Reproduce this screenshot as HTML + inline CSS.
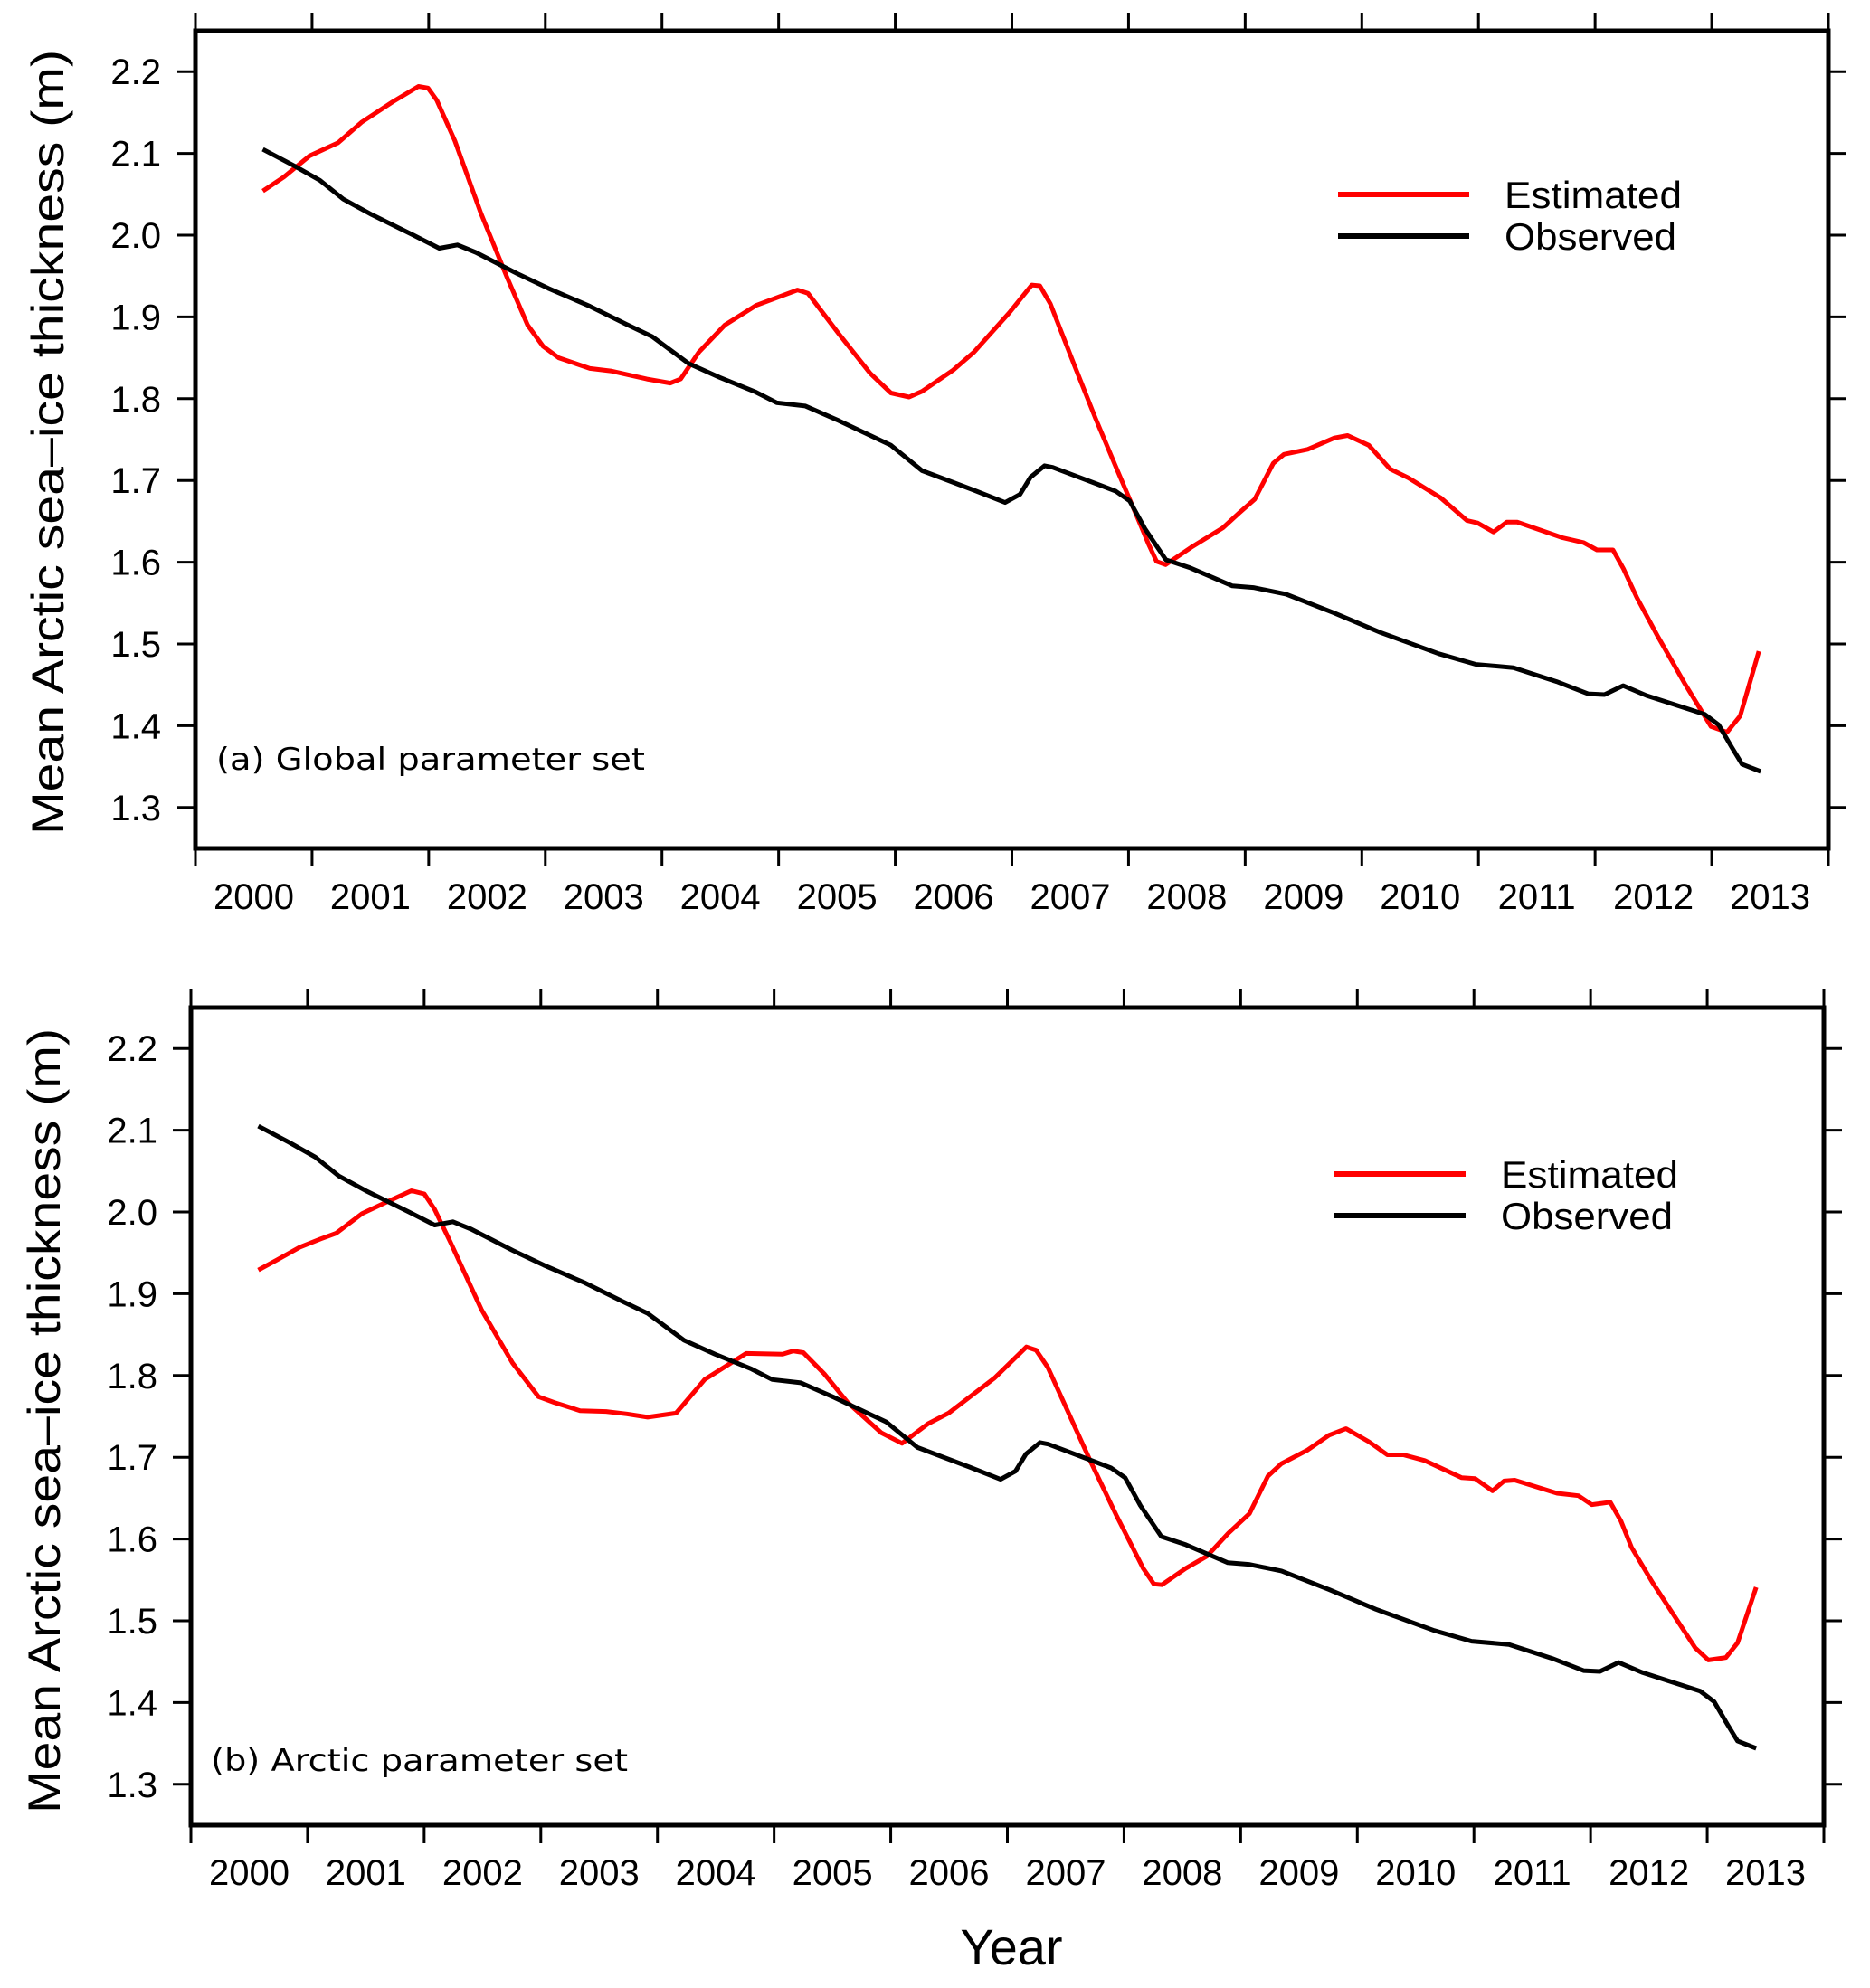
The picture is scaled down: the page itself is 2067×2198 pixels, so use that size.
<!DOCTYPE html>
<html><head><meta charset="utf-8"><style>
html,body{margin:0;padding:0;background:#fff;}
svg{display:block;}
text{font-family:"Liberation Sans",Arial,sans-serif;fill:#000;}
.lab{font-family:"DejaVu Sans","Liberation Sans",sans-serif;}
</style></head>
<body>
<svg id="chart" width="2067" height="2198" viewBox="0 0 2067 2198" xmlns="http://www.w3.org/2000/svg"></svg>
<script>
const yTicks = [1.3,1.4,1.5,1.6,1.7,1.8,1.9,2.0,2.1,2.2];
const yearLabels = ["2000","2001","2002","2003","2004","2005","2006","2007","2008","2009","2010","2011","2012","2013"];
const obsYears = [2000.578,2000.845,2001.068,2001.268,2001.513,2001.869,2002.09,2002.247,2002.403,2002.759,2003.026,2003.382,2003.694,2003.916,2004.228,2004.495,2004.806,2004.984,2005.229,2005.518,2005.963,2006.23,2006.675,2006.942,2007.07,2007.16,2007.28,2007.35,2007.76,2007.89,2008.01,2008.14,2008.32,2008.53,2008.89,2009.07,2009.35,2009.76,2010.16,2010.66,2010.98,2011.30,2011.67,2011.94,2012.08,2012.24,2012.44,2012.94,2013.06,2013.17,2013.26,2013.42];
const obsValues = [2.105,2.085,2.067,2.044,2.025,2.000,1.984,1.988,1.979,1.953,1.935,1.913,1.891,1.876,1.843,1.826,1.808,1.795,1.791,1.773,1.743,1.712,1.688,1.673,1.683,1.704,1.718,1.716,1.694,1.687,1.675,1.641,1.603,1.593,1.571,1.569,1.561,1.538,1.514,1.488,1.475,1.471,1.454,1.439,1.438,1.449,1.437,1.414,1.401,1.374,1.353,1.344];
const estAYears = [2000.578,2000.757,2000.979,2001.224,2001.424,2001.691,2001.913,2001.994,2002.069,2002.225,2002.447,2002.67,2002.848,2002.981,2003.115,2003.382,2003.56,2003.871,2004.072,2004.16,2004.316,2004.539,2004.806,2005.162,2005.251,2005.518,2005.785,2005.963,2006.119,2006.23,2006.497,2006.675,2006.977,2007.171,2007.24,2007.33,2007.535,2007.717,2007.899,2008.081,2008.172,2008.24,2008.318,2008.536,2008.809,2008.946,2009.082,2009.241,2009.332,2009.536,2009.764,2009.878,2010.06,2010.242,2010.401,2010.674,2010.901,2010.992,2011.129,2011.243,2011.333,2011.72,2011.902,2012.016,2012.153,2012.243,2012.357,2012.539,2012.767,2012.994,2013.131,2013.244,2013.404];
const estAValues = [2.054,2.071,2.097,2.113,2.138,2.163,2.182,2.180,2.165,2.115,2.027,1.949,1.890,1.864,1.850,1.837,1.834,1.824,1.819,1.824,1.857,1.890,1.914,1.933,1.929,1.879,1.831,1.807,1.802,1.809,1.835,1.857,1.905,1.939,1.938,1.916,1.841,1.776,1.714,1.653,1.622,1.601,1.597,1.618,1.642,1.660,1.677,1.721,1.732,1.738,1.752,1.755,1.743,1.714,1.703,1.679,1.651,1.648,1.637,1.649,1.649,1.630,1.624,1.615,1.615,1.592,1.557,1.509,1.452,1.399,1.392,1.412,1.491];
const estBYears = [2000.578,2000.734,2000.934,2001.112,2001.246,2001.468,2001.691,2001.891,2002.002,2002.09,2002.225,2002.49,2002.759,2002.981,2003.115,2003.337,2003.56,2003.738,2003.916,2004.16,2004.405,2004.761,2005.073,2005.162,2005.251,2005.43,2005.63,2005.919,2006.097,2006.32,2006.497,2006.891,2007.164,2007.247,2007.347,2007.71,2007.938,2008.165,2008.256,2008.325,2008.529,2008.711,2008.893,2009.075,2009.234,2009.348,2009.575,2009.757,2009.903,2010.099,2010.258,2010.395,2010.577,2010.895,2011.009,2011.159,2011.259,2011.35,2011.713,2011.896,2012.01,2012.169,2012.26,2012.35,2012.53,2012.896,2013.01,2013.16,2013.26,2013.42];
const estBValues = [1.929,1.941,1.957,1.967,1.974,1.998,2.013,2.026,2.022,2.003,1.963,1.881,1.815,1.774,1.767,1.757,1.756,1.753,1.749,1.754,1.795,1.827,1.826,1.830,1.828,1.802,1.767,1.730,1.717,1.741,1.754,1.797,1.835,1.831,1.810,1.696,1.628,1.564,1.545,1.544,1.564,1.579,1.607,1.631,1.677,1.692,1.709,1.727,1.735,1.719,1.703,1.703,1.696,1.675,1.674,1.659,1.671,1.672,1.656,1.653,1.642,1.645,1.622,1.590,1.547,1.467,1.452,1.455,1.473,1.541];

const NS = "http://www.w3.org/2000/svg";
const svg = document.getElementById('chart');
function mk(tag, attrs, parent){ const e=document.createElementNS(NS,tag); for(const k in attrs) e.setAttribute(k,attrs[k]); (parent||svg).appendChild(e); return e; }

function panel(cfg){
  const g = mk('g',{});
  
  
  const L=cfg.left, T=cfg.top, W=1805, H=904;
  const xS = yr => L + (yr-2000)/14*W;
  const yS = v => T + (2.25-v)/1.0*H;
  yTicks.forEach(v=>{
    const y=yS(v);
    const t1=mk('line',{x1:L-20,x2:L,y1:y,y2:y,stroke:'#000','stroke-width':3},g);
    
    
    mk('line',{x1:L+W,x2:L+W+20,y1:y,y2:y,stroke:'#000','stroke-width':3},g);
    const tx=mk('text',{x:cfg.ylabRight,y:y+14,'text-anchor':'end','font-size':40},g);
    tx.textContent=v.toFixed(1);
    
    
  });
  for(let k=0;k<=14;k++){
    const x=L+k*W/14;
    mk('line',{x1:x,x2:x,y1:T-20,y2:T,stroke:'#000','stroke-width':3},g);
    const bt=mk('line',{x1:x,x2:x,y1:T+H,y2:T+H+20,stroke:'#000','stroke-width':3},g);
    
    
  }
  yearLabels.forEach((lab,i)=>{
    const t=mk('text',{x:xS(2000+i+0.5),y:cfg.xlabY,'text-anchor':'middle','font-size':40},g);
    t.textContent=lab;
    
    
  });
  const frame=mk('rect',{x:L,y:T,width:W,height:H,fill:'none',stroke:'#000','stroke-width':5},g);
  
  
  function line(xs,vs,color,nm){
    const d=xs.map((x,i)=>(i?'L':'M')+xS(x).toFixed(1)+','+yS(vs[i]).toFixed(1)).join(' ');
    const p=mk('path',{d:d,fill:'none',stroke:color,'stroke-width':5,'stroke-linejoin':'round'},g);
    
    
  }
  line(cfg.estX,cfg.estV,'#ff0000','estimated-line');
  line(obsYears,obsValues,'#000','observed-line');
  const lg=mk('g',{},g);
  
  
  const lx=cfg.legX, ly=cfg.legY;
  mk('line',{x1:lx,x2:lx+145,y1:ly,y2:ly,stroke:'#ff0000','stroke-width':6},lg);
  mk('line',{x1:lx,x2:lx+145,y1:ly+46,y2:ly+46,stroke:'#000','stroke-width':6},lg);
  const e1=mk('text',{x:lx+184,y:ly+15,'font-size':42,textLength:196,lengthAdjust:'spacingAndGlyphs'},lg); e1.textContent='Estimated';
  
  
  const e2=mk('text',{x:lx+184,y:ly+61,'font-size':42,textLength:190,lengthAdjust:'spacingAndGlyphs'},lg); e2.textContent='Observed';
  
  
  const pl=mk('text',{x:cfg.plX,y:cfg.plY,'font-size':34,class:'lab',textLength:cfg.plW,lengthAdjust:'spacingAndGlyphs'},g);
  pl.textContent=cfg.panelLabel;
  
  
  const yt=mk('text',{x:0,y:0,'font-size':50,'text-anchor':'middle',textLength:868,lengthAdjust:'spacingAndGlyphs',transform:`translate(${cfg.ytX},${cfg.ytY}) rotate(-90)`},g);
  yt.textContent='Mean Arctic sea\u2013ice thickness (m)';
  
  
}
panel({name:'panel-a',left:216,top:34,ylabRight:178,xlabY:1005,estX:estAYears,estV:estAValues,legX:1479,legY:215,panelLabel:'(a) Global parameter set',plX:239,plY:851,plW:474,ytX:70,ytY:489});
panel({name:'panel-b',left:211,top:1114,ylabRight:174,xlabY:2084,estX:estBYears,estV:estBValues,legX:1475,legY:1298,panelLabel:'(b) Arctic parameter set',plX:233,plY:1958,plW:461,ytX:66,ytY:1571});
const xt=mk('text',{x:1118,y:2172,'font-size':56,'text-anchor':'middle'});
xt.textContent='Year';


</script>
</body></html>
